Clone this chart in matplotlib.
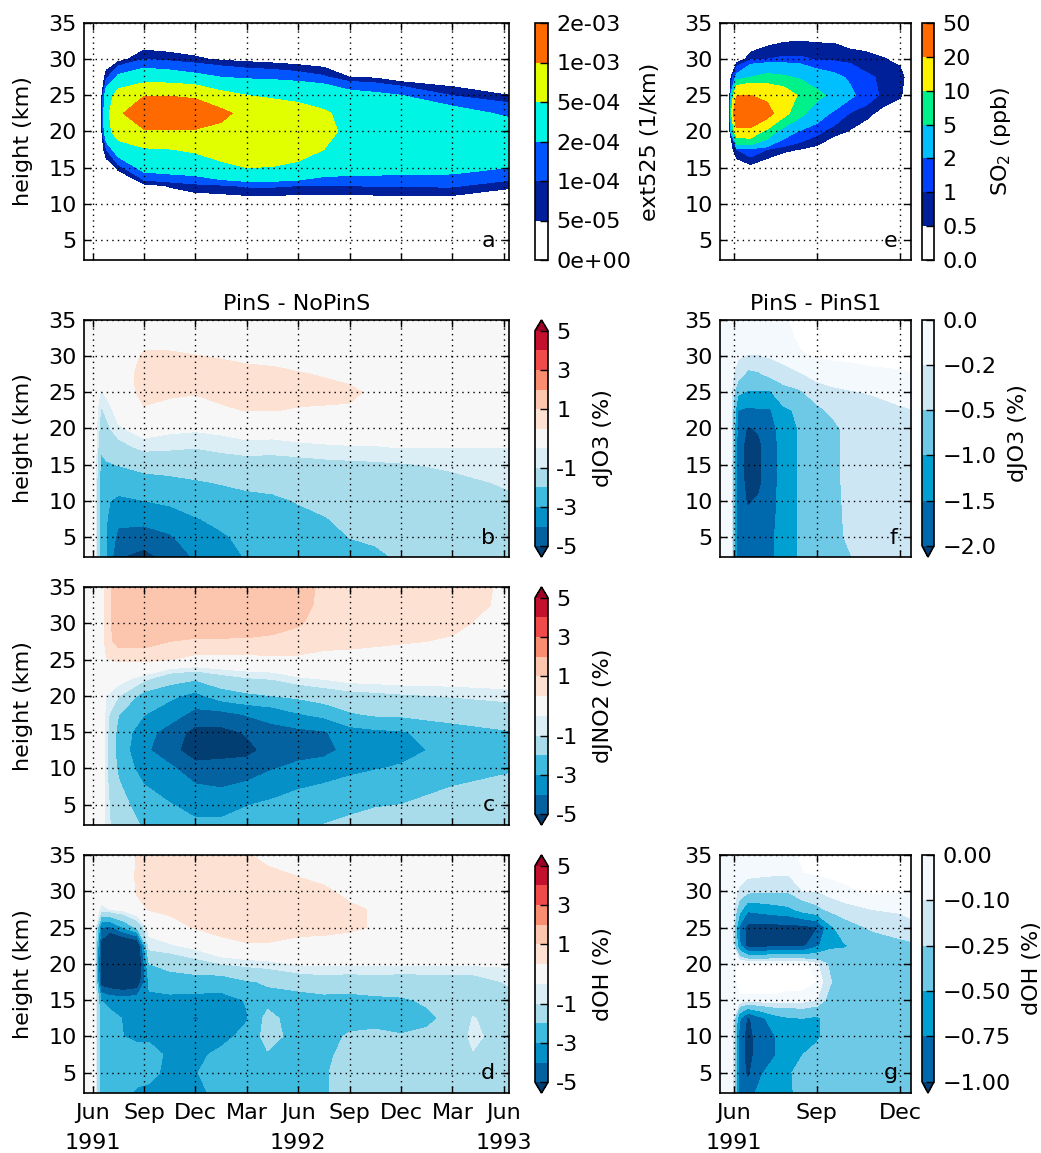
import numpy as np
import matplotlib
matplotlib.use("Agg")
import matplotlib.pyplot as plt
import matplotlib.transforms as mtransforms
from matplotlib.colors import ListedColormap, BoundaryNorm

plt.rcParams['font.family'] = ['DejaVu Sans']
plt.rcParams['font.size'] = 16

## datos leidos de la figura
# alturas (km), de arriba hacia abajo igual que en la figura
alturas = [35, 32.5, 30, 27.5, 25, 22.5, 20, 17.5, 15, 12.5, 10, 7.5, 5, 2]

# meses desde junio 1991
meses_izq = [-0.5, 0.1, 0.5, 0.8, 1.5, 3, 4.5, 6, 7.5, 9, 10.5, 12, 13.5, 15, 16.5, 18, 21, 24.3]
meses_d = [-0.5, 0.1, 0.5, 1, 1.8, 2.6, 3.3, 4.5, 6, 7.5, 9, 10.2, 12, 13.5, 15, 16.5, 18, 19.5, 21, 22.2, 24.3]
meses_e = [-0.5, -0.15, 0.1, 0.6, 1.2, 1.8, 2.4, 3, 3.6, 4.2, 4.8, 5.4, 6, 6.4]
meses_f = [-0.5, -0.1, 0.15, 0.5, 0.9, 1.3, 1.8, 2.4, 3, 3.6, 4.2, 5, 6, 6.4]
meses_g = [-0.5, -0.05, 0.2, 0.5, 1, 1.5, 2, 2.5, 3, 3.5, 4, 5, 6, 6.4]

# a: ext525 en unidades de 1e-4 1/km
ext525 = [
    [0, 0, 0, 0, 0, 0, 0, 0, 0, 0, 0, 0, 0, 0, 0, 0, 0, 0],
    [0, 0, 0, 0, 0, 0, 0, 0, 0, 0, 0, 0, 0, 0, 0, 0, 0, 0],
    [0, 0, 0, 0, 0.2, 1.0, 0.8, 0.6, 0.4, 0.3, 0.2, 0.1, 0, 0, 0, 0, 0, 0],
    [0, 0, 0, 0.8, 2.3, 3.0, 2.8, 2.4, 2.0, 1.7, 1.6, 1.4, 1.1, 0.5, 0.4, 0, 0, 0],
    [0, 0, 0, 3.0, 6.5, 9.5, 9.6, 8.5, 6.0, 5.0, 4.5, 4.0, 3.5, 2.6, 2.3, 2.0, 0.95, 0.5],
    [0, 0, 0, 4.0, 8.0, 18, 18, 16, 11.5, 8.0, 7.0, 6.5, 5.4, 4.0, 3.6, 3.3, 2.7, 1.7],
    [0, 0, 0, 3.5, 7.0, 9.0, 9.3, 9.2, 8.5, 8.0, 7.5, 7.0, 5.8, 4.3, 3.8, 3.6, 3.3, 3.0],
    [0, 0, 0, 1.0, 3.0, 4.6, 4.9, 5.5, 6.5, 7.0, 6.8, 6.3, 5.0, 3.8, 3.5, 3.3, 3.1, 2.8],
    [0, 0, 0, 0, 0.6, 2.6, 2.8, 3.0, 4.2, 5.0, 4.9, 4.3, 3.0, 2.8, 2.7, 2.6, 2.5, 2.0],
    [0, 0, 0, 0, 0, 0.3, 0.55, 0.8, 0.9, 1.1, 1.1, 1.0, 1.0, 1.0, 1.05, 1.05, 1.1, 0.6],
    [0, 0, 0, 0, 0, 0, 0, 0, 0, 0, 0, 0, 0, 0, 0, 0, 0, 0],
    [0, 0, 0, 0, 0, 0, 0, 0, 0, 0, 0, 0, 0, 0, 0, 0, 0, 0],
    [0, 0, 0, 0, 0, 0, 0, 0, 0, 0, 0, 0, 0, 0, 0, 0, 0, 0],
    [0, 0, 0, 0, 0, 0, 0, 0, 0, 0, 0, 0, 0, 0, 0, 0, 0, 0],
]

# b: dJO3 (%) PinS - NoPinS
djo3 = [
    [0, 0, 0, 0, 0, 0.1, 0.1, 0.1, 0.05, 0.05, 0, 0, 0, 0, 0, 0, 0, 0],
    [0, 0, 0, 0, 0, 0.25, 0.25, 0.2, 0.15, 0.1, 0.1, 0.05, 0, 0, 0, 0, 0, 0],
    [0, 0, 0, 0, 0, 0.6, 0.6, 0.52, 0.45, 0.35, 0.3, 0.2, 0.15, 0.05, 0, 0, 0, 0],
    [0, 0, 0, 0, 0.1, 0.75, 0.75, 0.75, 0.75, 0.7, 0.65, 0.55, 0.45, 0.3, 0.1, 0, 0, 0],
    [0, 0, -0.6, -0.35, 0.2, 0.65, 0.6, 0.55, 0.65, 0.68, 0.7, 0.7, 0.7, 0.65, 0.35, 0.1, 0, 0],
    [0, 0, -1.1, -0.85, -0.2, 0.45, 0.3, 0.2, 0.42, 0.52, 0.52, 0.45, 0.42, 0.4, 0.2, 0.05, 0, 0],
    [0, 0, -1.4, -1.2, -0.6, -0.2, -0.35, -0.4, -0.3, -0.15, -0.15, -0.2, -0.2, -0.2, -0.2, -0.2, -0.2, -0.2],
    [0, 0, -1.8, -1.6, -1.3, -0.75, -0.85, -0.95, -0.85, -0.7, -0.75, -0.6, -0.55, -0.52, -0.52, -0.45, -0.48, -0.48],
    [0, 0, -2.3, -2.1, -1.97, -1.7, -1.6, -1.5, -1.3, -1.3, -1.3, -1.3, -1.2, -1.15, -1.1, -1.05, -0.9, -0.75],
    [0, 0, -2.6, -2.6, -2.5, -2.35, -2.25, -2.1, -1.95, -1.8, -1.75, -1.6, -1.5, -1.4, -1.35, -1.3, -1.15, -0.93],
    [0, 0, -2.8, -2.9, -3.2, -3.0, -2.8, -2.6, -2.4, -2.25, -2.15, -1.95, -1.75, -1.6, -1.55, -1.45, -1.3, -1.1],
    [0, 0, -2.8, -2.95, -3.7, -3.6, -3.5, -3.05, -2.8, -2.6, -2.45, -2.2, -2.05, -1.8, -1.7, -1.6, -1.4, -1.2],
    [0, 0, -2.8, -2.95, -4.3, -4.6, -4.1, -3.5, -3.1, -2.8, -2.6, -2.45, -2.3, -1.98, -1.85, -1.75, -1.5, -1.3],
    [0, 0, -2.8, -2.95, -5.0, -5.3, -4.8, -3.9, -3.4, -2.95, -2.8, -2.7, -2.5, -2.3, -2.2, -1.9, -1.6, -1.4],
]

# c: dJNO2 (%)
djno2 = [
    [0, 0, 0, 0.8, 1.3, 1.4, 1.45, 1.5, 1.5, 1.45, 1.35, 1.2, 0.9, 0.85, 0.8, 0.8, 0.75, 0.4],
    [0, 0, 0, 0.8, 1.3, 1.4, 1.45, 1.5, 1.5, 1.45, 1.35, 1.2, 0.85, 0.8, 0.75, 0.75, 0.7, 0.4],
    [0, 0, 0, 0.8, 1.3, 1.35, 1.4, 1.45, 1.45, 1.4, 1.25, 1.05, 0.8, 0.75, 0.7, 0.7, 0.6, 0.3],
    [0, 0, 0, 0.75, 1.2, 1.2, 1.0, 0.9, 0.9, 0.9, 0.85, 0.8, 0.7, 0.65, 0.6, 0.55, 0.45, 0.25],
    [0, 0, 0, 0.45, 0.6, 0.65, 0.52, 0.35, 0.35, 0.35, 0.4, 0.4, 0.3, 0.3, 0.25, 0.2, 0.15, 0.1],
    [0, 0, 0, 0, -0.2, -0.7, -1.5, -1.8, -1.3, -1.0, -0.9, -0.55, -0.4, -0.2, -0.15, -0.1, -0.1, -0.1],
    [0, 0, 0, -0.5, -0.95, -2.4, -2.8, -3.3, -2.5, -2.2, -2.0, -1.8, -1.5, -1.3, -1.2, -1.1, -0.95, -0.75],
    [0, 0, 0, -0.7, -1.95, -2.95, -3.5, -4.3, -4.3, -3.9, -3.6, -3.05, -2.7, -2.1, -1.85, -1.8, -1.6, -1.5],
    [0, 0, 0, -0.8, -2.3, -3.6, -4.4, -5.35, -5.3, -4.9, -4.35, -4.25, -4.1, -3.4, -3.2, -3.1, -2.4, -2.05],
    [0, 0, 0, -0.85, -2.4, -3.8, -4.6, -5.6, -5.5, -5.3, -4.6, -4.3, -4.3, -3.7, -3.45, -3.3, -2.7, -2.3],
    [0, 0, 0, -0.85, -2.15, -3.5, -3.8, -4.6, -4.5, -4.5, -4.05, -3.8, -3.5, -3.25, -3.05, -2.9, -2.4, -2.08],
    [0, 0, 0, -0.85, -1.85, -2.95, -3.4, -3.9, -4.05, -3.8, -3.45, -3.1, -2.9, -2.65, -2.5, -2.35, -2.0, -1.8],
    [0, 0, 0, -0.8, -1.6, -2.5, -2.95, -3.3, -3.3, -3.05, -2.8, -2.5, -2.4, -2.2, -2.05, -2.0, -1.7, -1.55],
    [0, 0, 0, -0.8, -1.4, -2.1, -2.5, -2.8, -2.8, -2.5, -2.3, -2.15, -1.95, -1.8, -1.7, -1.6, -1.4, -1.3],
]

# d: dOH (%) PinS - NoPinS
doh = [
    [0, 0, 0, 0, 0, 0.55, 0.65, 0.7, 0.8, 0.85, 0.55, 0.35, 0.15, 0.05, 0, 0, 0, 0, 0, 0, 0],
    [0, 0, 0, 0, 0, 0.6, 0.7, 0.75, 0.8, 0.85, 0.8, 0.6, 0.45, 0.3, 0.05, 0, 0, 0, 0, 0, 0],
    [0, 0, 0, -0.1, -0.1, 0.6, 0.65, 0.75, 0.8, 0.85, 0.85, 0.8, 0.7, 0.6, 0.35, 0.15, 0, 0, 0, 0, 0],
    [0, 0, -0.7, -0.5, -0.3, 0.2, 0.55, 0.65, 0.75, 0.8, 0.85, 0.85, 0.8, 0.75, 0.6, 0.45, 0, 0, 0, 0, 0],
    [0, 0, -4.0, -4.3, -3.0, -1.8, -0.3, 0.2, 0.55, 0.7, 0.75, 0.75, 0.7, 0.65, 0.6, 0.45, 0.05, 0, 0, 0, 0],
    [0, 0, -5.5, -7.0, -7.0, -6.5, -0.7, -0.6, -0.3, 0.3, 0.45, 0.45, 0.3, 0.3, 0.2, 0.1, 0, 0, 0, 0, 0],
    [0, 0, -6.0, -7.0, -7.0, -6.8, -2.0, -1.6, -1.3, -1.0, -0.8, -0.7, -0.4, -0.4, -0.4, -0.4, -0.4, -0.4, -0.4, -0.4, -0.4],
    [0, 0, -5.6, -6.0, -6.3, -6.0, -2.8, -2.6, -2.5, -2.6, -2.1, -1.9, -1.6, -1.4, -1.5, -1.4, -1.5, -1.45, -1.4, -1.4, -0.9],
    [0, 0, -3.0, -3.3, -3.5, -3.3, -3.2, -3.2, -3.3, -3.3, -2.95, -2.3, -2.4, -2.3, -2.3, -2.2, -2.1, -1.9, -1.7, -1.5, -1.3],
    [0, 0, -2.6, -2.7, -3.05, -3.3, -3.3, -3.4, -4.1, -3.4, -3.05, -1.7, -2.5, -2.4, -2.3, -2.3, -2.3, -2.15, -1.8, -0.95, -1.5],
    [0, 0, -2.6, -2.7, -3.0, -3.1, -3.1, -3.3, -3.4, -3.2, -2.8, -1.6, -2.4, -2.3, -1.9, -1.8, -1.95, -1.85, -1.6, -0.8, -1.5],
    [0, 0, -2.6, -2.7, -2.8, -2.8, -2.8, -3.1, -3.15, -2.85, -2.5, -2.1, -2.3, -2.2, -1.7, -1.6, -1.6, -1.6, -1.5, -1.05, -1.5],
    [0, 0, -2.6, -2.7, -2.8, -2.8, -2.9, -3.1, -3.05, -2.6, -2.4, -2.4, -2.2, -2.1, -1.6, -1.55, -1.5, -1.5, -1.45, -1.4, -1.45],
    [0, 0, -2.6, -2.7, -2.9, -3.1, -3.1, -3.3, -3.2, -2.8, -2.4, -2.4, -2.2, -2.1, -1.6, -1.5, -1.5, -1.5, -1.45, -1.45, -1.45],
]

# e: SO2 (ppb)
so2 = [
    [0, 0, 0, 0, 0, 0, 0, 0, 0, 0, 0, 0, 0, 0],
    [0, 0, 0, 0, 0.3, 0.45, 0.5, 0.45, 0.45, 0.3, 0.2, 0, 0, 0],
    [0, 0, 0, 0.8, 1.0, 1.1, 1.1, 0.95, 0.85, 0.75, 0.7, 0.55, 0.3, 0],
    [0, 0, 2.5, 5.0, 6.0, 5.5, 4.5, 2.9, 2.4, 1.8, 1.1, 0.9, 0.8, 0],
    [0, 0, 19, 20, 17, 14, 9, 6, 4, 2.3, 1.4, 0.85, 0.6, 0],
    [0, 0, 40, 40, 25, 12, 6, 3.0, 1.7, 0.95, 0.65, 0.3, 0, 0],
    [0, 0, 15, 15, 8, 3, 1.8, 1.2, 0.7, 0.45, 0.2, 0, 0, 0],
    [0, 0, 1.0, 1.5, 1.0, 0.6, 0.48, 0.3, 0, 0, 0, 0, 0, 0],
    [0, 0, 0, 0.3, 0, 0, 0, 0, 0, 0, 0, 0, 0, 0],
    [0, 0, 0, 0, 0, 0, 0, 0, 0, 0, 0, 0, 0, 0],
    [0, 0, 0, 0, 0, 0, 0, 0, 0, 0, 0, 0, 0, 0],
    [0, 0, 0, 0, 0, 0, 0, 0, 0, 0, 0, 0, 0, 0],
    [0, 0, 0, 0, 0, 0, 0, 0, 0, 0, 0, 0, 0, 0],
    [0, 0, 0, 0, 0, 0, 0, 0, 0, 0, 0, 0, 0, 0],
]

# f: dJO3 (%) PinS - PinS1
djo3_s1 = [
    [-0.1, -0.1, -0.1, -0.1, -0.1, -0.05, -0.02, 0.05, 0.06, 0.06, 0.06, 0.06, 0.06, 0.06],
    [-0.1, -0.1, -0.1, -0.12, -0.12, -0.12, -0.05, 0.03, 0.05, 0.05, 0.05, 0.05, 0.05, 0.05],
    [-0.1, -0.1, -0.18, -0.21, -0.21, -0.18, -0.12, -0.02, 0.02, 0.03, 0.03, 0.03, 0.03, 0.03],
    [-0.1, -0.15, -0.3, -0.6, -0.55, -0.4, -0.3, -0.22, -0.13, -0.08, -0.05, -0.02, -0.01, -0.005],
    [-0.1, -0.15, -0.9, -1.05, -1.05, -1.05, -0.65, -0.55, -0.3, -0.25, -0.22, -0.18, -0.12, -0.1],
    [-0.1, -0.15, -1.5, -1.6, -1.55, -1.55, -1.1, -0.9, -0.6, -0.4, -0.3, -0.3, -0.23, -0.21],
    [-0.1, -0.15, -1.7, -2.05, -1.95, -1.7, -1.25, -0.95, -0.75, -0.6, -0.35, -0.35, -0.3, -0.3],
    [-0.1, -0.15, -1.75, -2.2, -2.1, -1.75, -1.3, -0.95, -0.75, -0.6, -0.35, -0.35, -0.3, -0.3],
    [-0.1, -0.15, -1.75, -2.2, -2.1, -1.75, -1.3, -0.95, -0.75, -0.62, -0.35, -0.35, -0.3, -0.3],
    [-0.1, -0.15, -1.75, -2.15, -2.1, -1.72, -1.3, -0.95, -0.75, -0.62, -0.35, -0.35, -0.3, -0.3],
    [-0.1, -0.15, -1.75, -2.05, -1.95, -1.7, -1.3, -0.95, -0.75, -0.62, -0.38, -0.35, -0.3, -0.3],
    [-0.1, -0.15, -1.75, -1.9, -1.8, -1.65, -1.3, -0.95, -0.75, -0.6, -0.42, -0.35, -0.3, -0.3],
    [-0.1, -0.15, -1.75, -1.8, -1.75, -1.6, -1.3, -0.95, -0.75, -0.58, -0.45, -0.35, -0.3, -0.3],
    [-0.1, -0.15, -1.75, -1.75, -1.7, -1.6, -1.3, -0.95, -0.75, -0.58, -0.52, -0.35, -0.3, -0.3],
]

# g: dOH (%) PinS - PinS1
doh_s1 = [
    [-0.05, -0.05, -0.05, -0.05, -0.05, -0.05, -0.03, 0.03, 0.04, 0.04, 0.05, 0.05, 0.05, 0.05],
    [-0.05, -0.05, -0.05, -0.06, -0.07, -0.08, -0.08, 0.0, 0.02, 0.03, 0.04, 0.04, 0.04, 0.04],
    [-0.05, -0.05, -0.12, -0.2, -0.22, -0.23, -0.22, -0.1, -0.1, -0.05, -0.02, 0.02, 0.01, 0.01],
    [-0.05, -0.05, -0.4, -0.7, -0.65, -0.6, -0.55, -0.4, -0.3, -0.2, -0.15, -0.1, -0.08, -0.05],
    [-0.05, -0.05, -0.8, -1.1, -1.1, -1.1, -1.1, -1.08, -1.02, -0.55, -0.35, -0.22, -0.17, -0.15],
    [-0.05, -0.05, -0.7, -1.1, -1.1, -1.05, -1.05, -1.05, -0.8, -0.55, -0.52, -0.37, -0.3, -0.28],
    [-0.05, -0.05, 0.05, 0.05, 0.05, 0.05, 0.05, 0.05, -0.08, -0.3, -0.37, -0.37, -0.37, -0.37],
    [-0.05, -0.05, 0.05, 0.05, 0.05, 0.05, 0.05, 0.05, 0.0, -0.24, -0.37, -0.37, -0.37, -0.37],
    [-0.05, -0.05, -0.02, -0.02, -0.02, -0.02, -0.05, -0.05, -0.1, -0.35, -0.37, -0.37, -0.37, -0.37],
    [-0.05, -0.05, -0.7, -1.05, -0.8, -0.6, -0.52, -0.5, -0.55, -0.37, -0.37, -0.37, -0.37, -0.37],
    [-0.05, -0.05, -0.85, -1.1, -0.85, -0.75, -0.55, -0.55, -0.55, -0.37, -0.37, -0.37, -0.37, -0.37],
    [-0.05, -0.05, -0.85, -1.1, -0.85, -0.76, -0.55, -0.5, -0.4, -0.37, -0.37, -0.37, -0.37, -0.37],
    [-0.05, -0.05, -0.85, -1.05, -0.78, -0.58, -0.52, -0.42, -0.37, -0.37, -0.37, -0.37, -0.37, -0.37],
    [-0.05, -0.05, -0.85, -0.9, -0.6, -0.52, -0.55, -0.38, -0.37, -0.37, -0.37, -0.37, -0.37, -0.37],
]

# niveles y etiquetas
niv_ext = [0, 0.5, 1, 2, 5, 10, 20]
niv_so2 = [0, 0.5, 1, 2, 5, 10, 20, 50]
et_so2 = ['0.0', '0.5', '1', '2', '5', '10', '20', '50']
niv_dif = [-5, -4, -3, -2, -1, -0.5, 0.5, 1, 2, 3, 4, 5]
ticks_dif = [-5, -3, -1, 1, 3, 5]
niv_jo3 = [-2.0, -1.5, -1.0, -0.5, -0.2, 0.0]
niv_oh = [-1.0, -0.75, -0.5, -0.25, -0.1, 0.0]

meses_izq_ticks = [0, 3, 6, 9, 12, 15, 18, 21, 24]
meses_izq_nombres = ['Jun', 'Sep', 'Dec', 'Mar', 'Jun', 'Sep', 'Dec', 'Mar', 'Jun']
meses_der_ticks = [0, 3, 6]
meses_der_nombres = ['Jun', 'Sep', 'Dec']
anios_izq = [(0, '1991'), (12, '1992'), (24, '1993')]
anios_der = [(0, '1991')]

# colores
col_ext = ['#ffffff', '#001f9a', '#0055ff', '#00f5e5', '#e2ff00', '#ff6a00']
col_so2 = ['#ffffff', '#00209a', '#0040ff', '#00bfff', '#00f08a', '#fff200', '#ff6a00']
col_dif = ['#0562a1', '#0591c7', '#3ebbde', '#a9dcea', '#dbeef5', '#f7f7f7',
           '#fde2d4', '#fcc6ae', '#f98d70', '#f04a4a', '#c3102f']
col_dif_bajo = '#033e72'
col_dif_alto = '#a00025'
col_azul = ['#0069ae', '#00a0d2', '#6dc9e5', '#cde6f4', '#f4f9fd']
col_azul_bajo = '#034079'

## figura
fig = plt.figure(figsize=(10.41, 11.53), dpi=100)


def caja(x0, y0, x1, y1):
    # pixeles -> fraccion de figura
    return [x0 / 1041.0, 1 - y1 / 1153.0, (x1 - x0) / 1041.0, (y1 - y0) / 1153.0]


def dibujar(ax, cax, meses, campo, niveles, colores, extend='neither', bajo=None, alto=None):
    cmap = ListedColormap(colores)
    if bajo is not None:
        cmap.set_under(bajo)
    if alto is not None:
        cmap.set_over(alto)
    norm = BoundaryNorm(niveles, cmap.N)
    z = np.array(campo, dtype=float)[::-1]
    cs = ax.contourf(meses, alturas[::-1], z, levels=niveles, cmap=cmap, norm=norm, extend=extend)
    cb = fig.colorbar(cs, cax=cax)
    cb.outline.set_linewidth(1.2)
    cb.ax.minorticks_off()
    cb.ax.tick_params(direction='in', length=6, width=1, labelsize=16, pad=6)
    return cb


def ejes(ax, xmax, xticks, letra, xletra):
    ax.set_xlim(-0.5, xmax)
    ax.set_ylim(2.2, 35)
    ax.set_xticks(xticks)
    ax.set_xticklabels([])
    ax.set_yticks([5, 10, 15, 20, 25, 30, 35])
    ax.grid(True, color='k', linestyle=(0, (1, 3)), linewidth=1)
    ax.set_axisbelow(False)
    ax.tick_params(direction='in', top=True, right=True, length=5, width=1, pad=5, labelsize=16)
    for s in ax.spines.values():
        s.set_linewidth(1.2)
    ax.text(xletra, 0.04, letra, transform=ax.transAxes, ha='right', va='bottom', fontsize=16)


def fechas(ax, ticks, nombres, anios):
    ax.set_xticklabels(nombres)
    ax.tick_params(axis='x', pad=7)
    tr = mtransforms.blended_transform_factory(ax.transData, ax.transAxes)
    for m, a in anios:
        ax.text(m, -0.17, a, transform=tr, ha='center', va='top', fontsize=16)


filas = [(23, 260), (320, 557), (587, 825), (855, 1093)]
izq = (84, 509)
cb_izq = (535, 548)
der = (720, 911)
cb_der = (922, 934)

# columna izquierda
ax_a = fig.add_axes(caja(izq[0], filas[0][0], izq[1], filas[0][1]))
cx_a = fig.add_axes(caja(cb_izq[0], filas[0][0], cb_izq[1], filas[0][1]))
cb = dibujar(ax_a, cx_a, meses_izq, ext525, niv_ext, col_ext)
cb.set_ticks(niv_ext)
cb.set_ticklabels(['%.0e' % (v * 1e-4) for v in niv_ext])
cb.set_label('ext525 (1/km)', labelpad=6)
ejes(ax_a, 24.3, meses_izq_ticks, 'a', 0.967)

paneles_izq = [(1, djo3, meses_izq, 'dJO3 (%)', 'b'),
               (2, djno2, meses_izq, 'dJNO2 (%)', 'c'),
               (3, doh, meses_d, 'dOH (%)', 'd')]
ejes_izq = [ax_a]
for fila, campo, meses, nombre, letra in paneles_izq:
    y0, y1 = filas[fila]
    ax = fig.add_axes(caja(izq[0], y0, izq[1], y1))
    cx = fig.add_axes(caja(cb_izq[0], y0, cb_izq[1], y1))
    cb = dibujar(ax, cx, meses, campo, niv_dif, col_dif, 'both', col_dif_bajo, col_dif_alto)
    cb.set_ticks(ticks_dif)
    cb.set_ticklabels([str(t) for t in ticks_dif])
    cb.set_label(nombre, labelpad=10)
    ejes(ax, 24.3, meses_izq_ticks, letra, 0.967)
    ejes_izq.append(ax)

for ax in ejes_izq:
    ax.set_ylabel('height (km)', labelpad=11)
ejes_izq[1].set_title('PinS - NoPinS', fontsize=16, pad=7)
fechas(ejes_izq[3], meses_izq_ticks, meses_izq_nombres, anios_izq)

# columna derecha
ax_e = fig.add_axes(caja(der[0], filas[0][0], der[1], filas[0][1]))
cx_e = fig.add_axes(caja(cb_der[0], filas[0][0], cb_der[1], filas[0][1]))
cb = dibujar(ax_e, cx_e, meses_e, so2, niv_so2, col_so2)
cb.set_ticks(niv_so2)
cb.set_ticklabels(et_so2)
cb.set_label('SO$_2$ (ppb)', labelpad=8)
ejes(ax_e, 6.4, meses_der_ticks, 'e', 0.93)

ax_f = fig.add_axes(caja(der[0], filas[1][0], der[1], filas[1][1]))
cx_f = fig.add_axes(caja(cb_der[0], filas[1][0], cb_der[1], filas[1][1]))
cb = dibujar(ax_f, cx_f, meses_f, djo3_s1, niv_jo3, col_azul, 'min', col_azul_bajo)
cb.set_ticks(niv_jo3)
cb.set_ticklabels([('%.1f' % v).replace('-', '\u2212') for v in niv_jo3])
cb.set_label('dJO3 (%)', labelpad=8)
ejes(ax_f, 6.4, meses_der_ticks, 'f', 0.93)
ax_f.set_title('PinS - PinS1', fontsize=16, pad=7)

ax_g = fig.add_axes(caja(der[0], filas[3][0], der[1], filas[3][1]))
cx_g = fig.add_axes(caja(cb_der[0], filas[3][0], cb_der[1], filas[3][1]))
cb = dibujar(ax_g, cx_g, meses_g, doh_s1, niv_oh, col_azul, 'min', col_azul_bajo)
cb.set_ticks(niv_oh)
cb.set_ticklabels([('%.2f' % v).replace('-', '\u2212') for v in niv_oh])
cb.set_label('dOH (%)', labelpad=8)
ejes(ax_g, 6.4, meses_der_ticks, 'g', 0.93)
fechas(ax_g, meses_der_ticks, meses_der_nombres, anios_der)

fig.savefig('out.png', dpi=100)
